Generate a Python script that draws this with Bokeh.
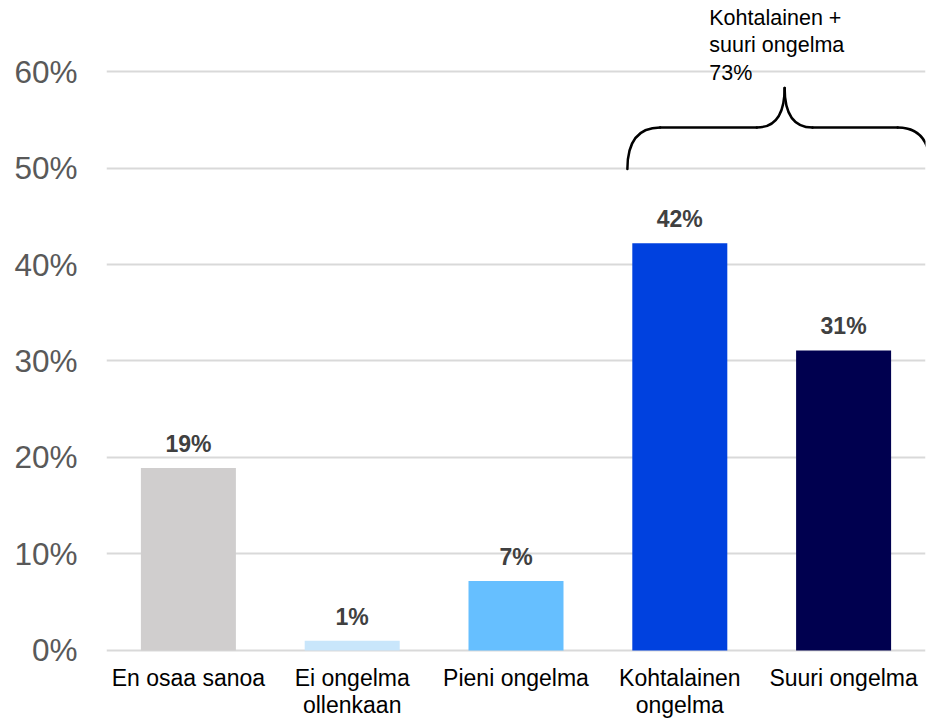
from bokeh.plotting import figure
from bokeh.models import FactorRange, Range1d, FixedTicker, CustomJSTickFormatter
from bokeh.core.properties import value
from bokeh.embed import file_html
from bokeh.resources import INLINE

# ---- data ----
categories = ["En osaa sanoa", "Ei ongelma ollenkaan", "Pieni ongelma",
              "Kohtalainen ongelma", "Suuri ongelma"]
axis_labels = ["En osaa sanoa", "Ei ongelma\nollenkaan", "Pieni ongelma",
               "Kohtalainen\nongelma", "Suuri ongelma"]
values = [18.9, 1.0, 7.2, 42.2, 31.1]
value_labels = ["19%", "1%", "7%", "42%", "31%"]
colors = ["#D0CECE", "#C9E6FB", "#66BFFF", "#0041DF", "#00004F"]
y_ticks = [0, 10, 20, 30, 40, 50, 60]
combined_title = "Kohtalainen +\nsuuri ongelma"
combined_value = "73%"

FONT = "Liberation Sans"

p = figure(width=929, height=718, output_backend="svg", toolbar_location=None,
           x_range=FactorRange(*categories, range_padding=0, factor_padding=0),
           y_range=Range1d(-7.05, 67.36),
           min_border_left=106, min_border_right=4, min_border_top=0,
           min_border_bottom=0)
p.outline_line_color = None
p.background_fill_color = "white"
p.xaxis.visible = False

p.vbar(x=categories, top=values, width=0.58, color=colors, line_color=None)

p.text(x=categories, y=values, text=value_labels, text_align="center",
       text_baseline="alphabetic", y_offset=-24,
       text_font=value(FONT), text_font_size="23px", text_font_style="bold",
       text_color="#404040")

# category labels drawn below the baseline
p.text(x=categories, y=[0] * len(categories), text=axis_labels,
       text_align="center", text_baseline="top", y_offset=15,
       text_line_height=1.01,
       text_font=value(FONT), text_font_size="23px", text_color="black")

# bracket (annotation over the last two categories)
bx0, bx1, tipx = 3.18, 5.03, 4.14
yb, ym, yt = 49.9, 54.2, 58.3
cdx, tdx = 0.2, 0.17
bk = dict(line_color="black", line_width=2.5, line_cap="round")
p.quadratic(x0=[bx0, tipx - tdx, tipx, bx1 - cdx],
            y0=[yb, ym, yt, ym],
            x1=[bx0 + cdx, tipx, tipx + tdx, bx1],
            y1=[ym, yt, ym, yb],
            cx=[bx0, tipx, tipx, bx1],
            cy=[ym, ym, ym, ym], **bk)
p.segment(x0=[bx0 + cdx, tipx + tdx], y0=[ym, ym],
          x1=[tipx - tdx, bx1 - cdx], y1=[ym, ym], **bk)

p.text(x=[3.68], y=[66.8], text=[combined_title + "\n" + combined_value],
       text_align="left", text_baseline="top", text_line_height=1.14,
       text_font=value(FONT), text_font_size="21.5px", text_color="black")

# y axis
p.yaxis.ticker = FixedTicker(ticks=y_ticks)
p.yaxis.formatter = CustomJSTickFormatter(code="return tick.toFixed(0) + '%';")
p.yaxis.axis_line_color = None
p.yaxis.major_tick_line_color = None
p.yaxis.minor_tick_line_color = None
p.yaxis.major_label_text_font = FONT
p.yaxis.major_label_text_font_size = "31.5px"
p.yaxis.major_label_text_color = "#595959"
p.yaxis.major_label_standoff = 23

p.xgrid.grid_line_color = None
p.ygrid.grid_line_color = "#D9D9D9"
p.ygrid.grid_line_width = 2

open("out.html", "w").write(file_html(p, INLINE))
